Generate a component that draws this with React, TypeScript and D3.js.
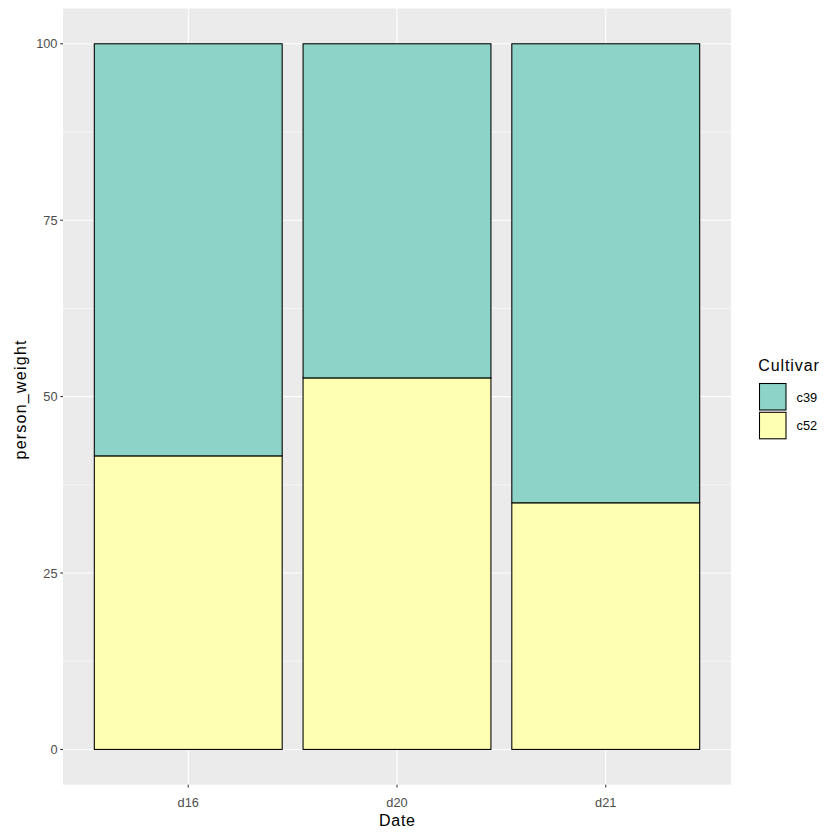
import React from "react";
import * as d3 from "d3";

const dates = ["d16", "d20", "d21"];
const cultivars = ["c39", "c52"];
const c52Values = [41.6, 52.65, 34.95];
const c39Values = [58.4, 47.35, 65.05];
const yTicks = [0, 25, 50, 75, 100];
const yMinor = [12.5, 37.5, 62.5, 87.5];
const colors: Record<string, string> = { c39: "#8DD3C7", c52: "#FFFFB3" };

export default function App() {
  const W = 840, H = 840;
  const left = 63, right = 731, top = 8.5, bottom = 784.7;
  const y = d3.scaleLinear().domain([-5, 105]).range([bottom, top]);
  const x = d3.scaleLinear().domain([0.4, 3.6]).range([left, right]);
  const font = "'Liberation Sans', Arial, sans-serif";
  const tickSize = 12.8;
  const titleSize = 16;

  const bars: { key: string; x0: number; x1: number; y0: number; y1: number; fill: string }[] = [];
  dates.forEach((d, i) => {
    const c = i + 1;
    const x0 = x(c - 0.45), x1 = x(c + 0.45);
    const v52 = c52Values[i];
    const v39 = c39Values[i];
    bars.push({ key: d + "c52", x0, x1, y0: 0, y1: v52, fill: colors.c52 });
    bars.push({ key: d + "c39", x0, x1, y0: v52, y1: v52 + v39, fill: colors.c39 });
  });

  return (
    <svg width={W} height={H} style={{ position: "absolute", left: 0, top: 0 }}>
      <rect x={0} y={0} width={W} height={H} fill="#FFFFFF" />
      <rect x={left} y={top} width={right - left} height={bottom - top} fill="#EBEBEB" />
      {yMinor.map((t) => (
        <line key={"m" + t} x1={left} x2={right} y1={y(t)} y2={y(t)} stroke="#FFFFFF" strokeWidth={0.53} />
      ))}
      {yTicks.map((t) => (
        <line key={"g" + t} x1={left} x2={right} y1={y(t)} y2={y(t)} stroke="#FFFFFF" strokeWidth={1.07} />
      ))}
      {dates.map((d, i) => (
        <line key={"gx" + d} x1={x(i + 1)} x2={x(i + 1)} y1={top} y2={bottom} stroke="#FFFFFF" strokeWidth={1.07} />
      ))}
      {bars.map((b) => (
        <rect
          key={b.key}
          x={b.x0}
          y={y(b.y1)}
          width={b.x1 - b.x0}
          height={y(b.y0) - y(b.y1)}
          fill={b.fill}
          stroke="#000000"
          strokeWidth={1.07}
        />
      ))}
      {yTicks.map((t) => (
        <g key={"yt" + t}>
          <line x1={left - 2.74} x2={left} y1={y(t)} y2={y(t)} stroke="#333333" strokeWidth={1.07} />
          <text x={left - 5.5} y={y(t)} dy="0.36em" textAnchor="end" fontFamily={font} fontSize={tickSize} fill="#4D4D4D">
            {t}
          </text>
        </g>
      ))}
      {dates.map((d, i) => (
        <g key={"xt" + d}>
          <line x1={x(i + 1)} x2={x(i + 1)} y1={bottom} y2={bottom + 2.74} stroke="#333333" strokeWidth={1.07} />
          <text x={x(i + 1)} y={bottom + 22} textAnchor="middle" fontFamily={font} fontSize={tickSize} fill="#4D4D4D">
            {d}
          </text>
        </g>
      ))}
      <text x={397} y={826} textAnchor="middle" fontFamily={font} fontSize={titleSize} fill="#000000"
        textLength={36} lengthAdjust="spacing">
        Date
      </text>
      <text
        transform={`translate(25.5,${400}) rotate(-90)`}
        textAnchor="middle"
        fontFamily={font}
        fontSize={titleSize}
        fill="#000000"
        textLength={119}
        lengthAdjust="spacing"
      >
        person_weight
      </text>
      <text x={758.3} y={370.5} fontFamily={font} fontSize={titleSize} fill="#000000" textLength={60.5} lengthAdjust="spacing">
        Cultivar
      </text>
      {cultivars.map((c, i) => (
        <g key={"lg" + c}>
          <rect x={759.5} y={383.5 + i * 28.8} width={26.5} height={26.5} fill={colors[c]} stroke="#000000" strokeWidth={1.07} />
          <text x={796.5} y={383.5 + i * 28.8 + 13.5} dy="0.36em" fontFamily={font} fontSize={tickSize} fill="#000000">
            {c}
          </text>
        </g>
      ))}
    </svg>
  );
}
